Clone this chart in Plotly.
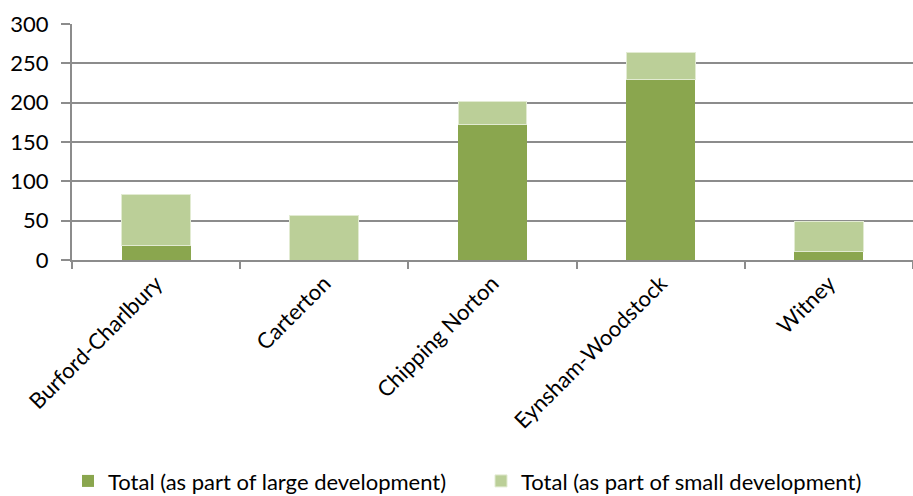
import plotly.graph_objects as go

categories = ["Burford-Charlbury", "Carterton", "Chipping Norton", "Eynsham-Woodstock", "Witney"]
large_dev = [19, 0, 172, 229, 11]
small_dev = [64, 56, 30, 35, 38]
series_names = ["Total (as part of large development)", "Total (as part of small development)"]
y_ticks = [0, 50, 100, 150, 200, 250, 300]

FONT = "Lato"
DARK = "#8AA64E"
LIGHT = "#BBCF98"

fig = go.Figure()
fig.add_trace(go.Bar(x=categories, y=large_dev, name=series_names[0], legend="legend",
                     showlegend=True,
                     marker=dict(color=DARK, line=dict(width=0))))
fig.add_trace(go.Bar(x=categories, y=small_dev, name=series_names[1], legend="legend2",
                     showlegend=True,
                     marker=dict(color=LIGHT, line=dict(color="#E2EBD2", width=1))))

legend_common = dict(orientation="h", xref="container", yref="container",
                     xanchor="left", y=0.03, yanchor="middle", visible=True,
                     font=dict(size=22, family=FONT), itemwidth=30)

fig.update_layout(
    width=913, height=496, showlegend=True,
    barmode="stack", bargap=0.59,
    paper_bgcolor="white", plot_bgcolor="white",
    margin=dict(l=72, r=0, t=24, b=236, autoexpand=False),
    font=dict(family=FONT, color="black"),
    legend=dict(x=68 / 913, **legend_common),
    legend2=dict(x=481 / 913, **legend_common),
    xaxis=dict(showline=True, linecolor="#8C8C8C", linewidth=2,
               ticks="outside", ticklen=7, tickcolor="#8C8C8C", tickwidth=2,
               tickson="boundaries", tickangle=-45, automargin=False,
               tickfont=dict(size=22, family=FONT)),
    yaxis=dict(range=[0, 300], tickvals=y_ticks, showline=True, linecolor="#8C8C8C", linewidth=2,
               showgrid=True, gridcolor="#8C8C8C", gridwidth=2,
               ticks="outside", ticklen=9, tickcolor="#8C8C8C", tickwidth=2,
               ticklabelstandoff=8, automargin=False,
               tickfont=dict(size=22, family=FONT), zeroline=False),
)

fig.write_html("out.html", config={"displayModeBar": False},
               post_script="document.body.style.margin='0';document.body.style.overflow='hidden';")
